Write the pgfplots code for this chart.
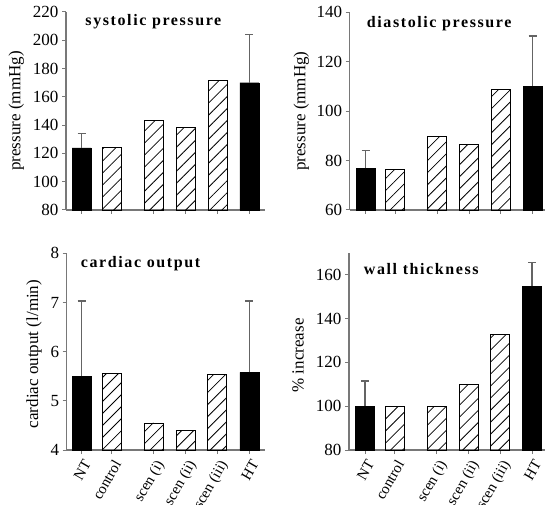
\documentclass[border=0pt]{standalone}
\usepackage{fontspec}
\setmainfont{Liberation Serif}
\newfontfamily\titlefont[LetterSpace=10]{Liberation Serif}
\usepackage{pgfplots}
\pgfplotsset{compat=1.18}
\usetikzlibrary{patterns.meta}

\definecolor{axgray}{RGB}{120,120,120}
\definecolor{errgray}{RGB}{100,100,100}

\tikzset{ttl/.style={anchor=west, font=\titlefont\bfseries\fontsize{16}{16}\selectfont}}

\pgfplotsset{
  panel/.style={
    scale only axis, anchor=south west,
    axis lines=left,
    axis line style={-, draw=axgray, line width=1.2pt},
    tick align=outside, major tick length=4pt,
    tick style={axgray, line width=1pt},
    /pgf/number format/assume math mode=true,
    yticklabel style={font=\fontsize{17}{17}\selectfont},
    ylabel style={font=\fontsize{17}{17}\selectfont, anchor=center},
    xticklabel style={font=\fontsize{15}{15}\selectfont, rotate=60, anchor=north east},
    clip=false,
  },
  solidbar/.style={ybar, bar width=19pt, bar shift=0pt, draw=black, fill=black,
    error bars/.cd, y dir=plus, y explicit,
    error bar style={draw=errgray, line width=1.2pt},
    error mark options={draw=errgray, line width=1.2pt, mark size=4pt, rotate=90}},
  hatchbar/.style={ybar, bar width=19pt, bar shift=0pt, draw=black, line width=0.8pt,
    pattern={Lines[angle=45, distance=8.5pt, line width=0.8pt]}},
}

\begin{document}
\begin{tikzpicture}
\useasboundingbox (0,0) rectangle (546pt,504pt);

% systolic pressure
\begin{axis}[panel, at={(66pt,294pt)}, width=199pt, height=198pt,
  xmin=0, xmax=199, ymin=80, ymax=220, ytick={80,100,...,220},
  xtick={15.7,45.5,87.7,119.7,151.5,183.3}, xticklabels={},
  ylabel={pressure (mmHg)},
  ylabel style={at={(axis description cs:-0.25,0.5)}}]
\addplot[solidbar] coordinates {(15.7,124) +- (0,10) (183.3,170) +- (0,34)};
\addplot[hatchbar] coordinates {(45.5,124) (87.7,143) (119.7,138.5) (151.5,171.5)};
\node[ttl] at (rel axis cs:0.08,0.951) {systolic pressure};
\end{axis}

% diastolic pressure
\begin{axis}[panel, at={(349.7pt,294pt)}, width=195.5pt, height=197.7pt,
  xmin=0, xmax=195.5, ymin=60, ymax=140, ytick={60,80,...,140},
  xtick={16,45.5,87.5,119.5,151.1,183}, xticklabels={},
  ylabel={pressure (mmHg)},
  ylabel style={at={(axis description cs:-0.247,0.5)}}]
\addplot[solidbar] coordinates {(16,76.8) +- (0,7.4) (183,110.1) +- (0,20.3)};
\addplot[hatchbar] coordinates {(45.5,76.4) (87.5,89.6) (119.5,86.5) (151.1,108.6)};
\node[ttl] at (rel axis cs:0.07,0.944) {diastolic pressure};
\end{axis}

% cardiac output
\begin{axis}[panel, at={(66.7pt,54pt)}, width=198.3pt, height=196.7pt,
  xmin=0, xmax=198.3, ymin=4, ymax=8, ytick={4,5,...,8},
  xtick={15,44.8,87,119,150.6,182.6},
  xticklabels={NT,control,scen (i),scen (ii),scen (iii),HT},
  ylabel={cardiac output (l/min)},
  ylabel style={at={(axis description cs:-0.165,0.488)}}]
\addplot[solidbar] coordinates {(15,5.5) +- (0,1.53) (182.6,5.58) +- (0,1.45)};
\addplot[hatchbar] coordinates {(44.8,5.55) (87,4.55) (119,4.4) (150.6,5.53)};
\node[ttl] at (rel axis cs:0.054,0.948) {cardiac output};
\end{axis}

% wall thickness
\begin{axis}[panel, at={(349pt,54pt)}, width=196pt, height=197.3pt,
  xmin=0, xmax=196, ymin=80, ymax=170, ytick={80,100,...,160},
  xtick={16,45.5,87.5,119.5,151.1,183},
  xticklabels={NT,control,scen (i),scen (ii),scen (iii),HT},
  ylabel={\% increase},
  ylabel style={at={(axis description cs:-0.26,0.479)}}]
\addplot[solidbar] coordinates {(16,100) +- (0,11.5) (183,154.7) +- (0,11)};
\addplot[hatchbar] coordinates {(45.5,100) (87.5,100) (119.5,109.7) (151.1,132.8)};
\node[ttl] at (rel axis cs:0.058,0.915) {wall thickness};
\end{axis}
\end{tikzpicture}
\end{document}
